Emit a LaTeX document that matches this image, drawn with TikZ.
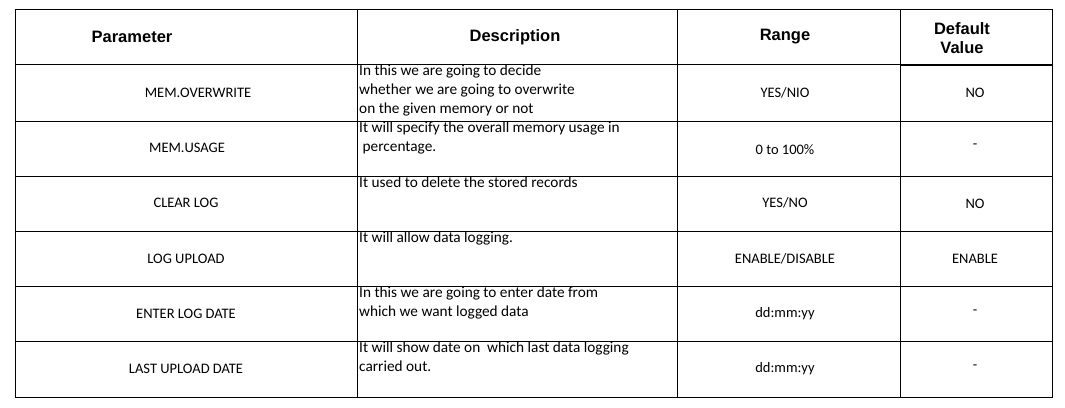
\documentclass[tikz,border=0pt]{standalone}
\usepackage{fontspec}
\setmainfont{Carlito}
\newfontfamily\hdfont{Liberation Sans}
\begin{document}
\begin{tikzpicture}[x=1pt,y=-1pt,
  cell/.style={font=\fontsize{14.5}{19}\selectfont,inner sep=0pt},
  desc/.style={font=\fontsize{15.3}{19}\selectfont,inner sep=0pt,anchor=north west,align=left},
  head/.style={font=\hdfont\bfseries\fontsize{16.5}{19}\selectfont,inner sep=0pt,align=center},
  grid/.style={line width=1pt}]
\useasboundingbox (0,0) rectangle (1065,407);
\draw[grid] (15,9) rectangle (1052,397);
\foreach \x in {357,677,900} \draw[grid] (\x,9) -- (\x,397);
\foreach \y in {121,176,231,286,341} \draw[grid] (15,\y) -- (1052,\y);
\draw[grid] (15,64) -- (900,64);
\draw[line width=2pt] (900,65) -- (1052,65);
\node[head] (h1) at (132,37) {Parameter};
\node[head] (h2) at (515,37) {Description};
\node[head] (h3) at (785,37) {Range};
\node[head] (h4) at (962,38) {Default\\Value};
\node[cell] (p1) at (198,93) {MEM.OVERWRITE};
\node[cell] (p2) at (187,148) {MEM.USAGE};
\node[cell] (p3) at (186,203) {CLEAR LOG};
\node[cell] (p4) at (186,259) {LOG UPLOAD};
\node[cell] (p5) at (186,314) {ENTER LOG DATE};
\node[cell] (p6) at (186,369) {LAST UPLOAD DATE};
\node[desc] (d1) at (359,65) {In this we are going to decide\\whether we are going to overwrite\\on the given memory or not};
\node[desc] (d2) at (359,122) {It will specify the overall memory usage in\\\ percentage.};
\node[desc] (d3) at (359,177) {It used to delete the stored records};
\node[desc] (d4) at (359,232) {It will allow data logging.};
\node[desc] (d5) at (359,287) {In this we are going to enter date from\\which we want logged data};
\node[desc] (d6) at (359,342) {It will show date on\ \ which last data logging\\carried out.};
\node[cell] (r1) at (785,93) {YES/NIO};
\node[cell] (r2) at (785,150) {0 to 100\%};
\node[cell] (r3) at (785,203) {YES/NO};
\node[cell] (r4) at (785,259) {ENABLE/DISABLE};
\node[cell] (r5) at (785,314) {dd:mm:yy};
\node[cell] (r6) at (785,369) {dd:mm:yy};
\node[cell] (v1) at (975,93) {NO};
\node[cell] (v2) at (975,146) {-};
\node[cell] (v3) at (975,204) {NO};
\node[cell] (v4) at (975,259) {ENABLE};
\node[cell] (v5) at (975,312) {-};
\node[cell] (v6) at (975,367) {-};
\end{tikzpicture}
\end{document}
